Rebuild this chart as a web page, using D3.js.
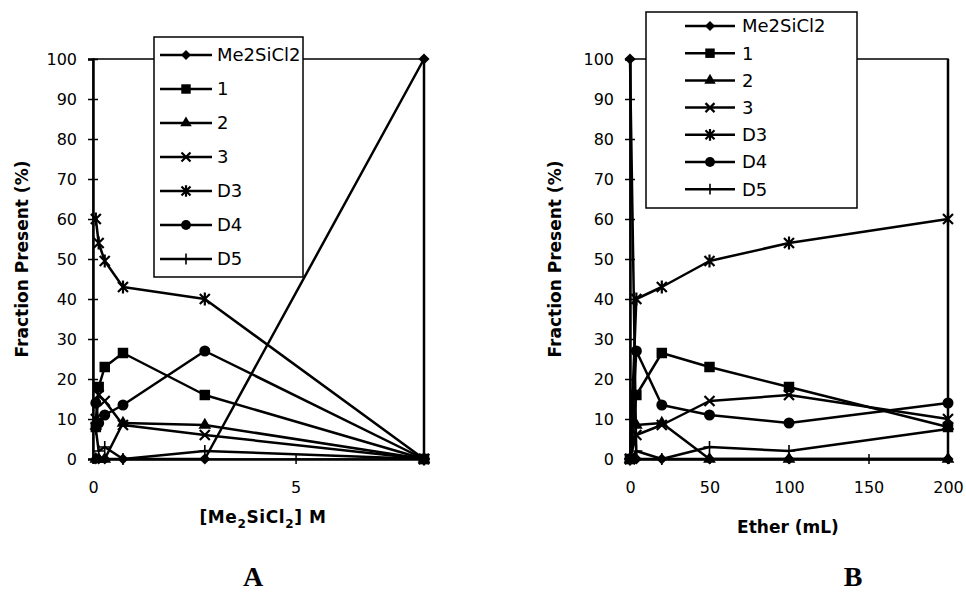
<!DOCTYPE html>
<html>
<head>
<meta charset="utf-8">
<script src="https://cdn.jsdelivr.net/npm/d3@7"></script>
<style>
	body { margin: 0; background: #fff; }
	svg { display: block; }
	text { font-family: "DejaVu Sans", sans-serif; fill: #000; }
	.tickLabel { font-size: 16px; }
	.axisTitle { font-size: 17px; font-weight: bold; }
	.legendText { font-size: 18px; }
	.panelLetter { font-family: "Liberation Serif", serif; font-size: 28px; font-weight: bold; }
</style>
</head>
<body>
<div id="app"></div>
<script>
//////////////////////////// data /////////////////////////////////////////

const seriesNames = ["Me2SiCl2", "1", "2", "3", "D3", "D4", "D5"];
const markerTypes = ["diamond", "square", "triangle", "x", "asterisk", "circle", "plus"];

// same six runs
const concM = [8.17, 2.76, 0.74, 0.29, 0.14, 0.07]; // panel A x
const etherML = [0, 4, 20, 50, 100, 200]; // panel B x

const me2sicl2 = [100, 0, 0, 0, 0, 0];
const cmp1 = [0, 16, 26.5, 23, 18, 8];
const cmp2 = [0, 8.5, 9, 0, 0, 0];
const cmp3 = [0, 6, 8.5, 14.5, 16, 10];
const ringD3 = [0, 40, 43, 49.5, 54, 60];
const ringD4 = [0, 27, 13.5, 11, 9, 14];
const ringD5 = [0, 2, 0, 3, 2, 7.5];

const seriesValues = [me2sicl2, cmp1, cmp2, cmp3, ringD3, ringD4, ringD5];

const yTicks = [0, 10, 20, 30, 40, 50, 60, 70, 80, 90, 100];
const xTicksA = [0, 5];
const xTicksB = [0, 50, 100, 150, 200];

//////////////////////////// markers //////////////////////////////////////

const drawMarker = (g, type, s) => {
	// s = scale factor, 1 = plot size
	if (type === "diamond") {
		g.append("path")
			.attr("d", d3.symbol(d3.symbolSquare, 62 * s * s)())
			.attr("transform", "rotate(45)");
	} else if (type === "square") {
		g.append("path").attr("d", d3.symbol(d3.symbolSquare, 110 * s * s)());
	} else if (type === "triangle") {
		g.append("path").attr("d", d3.symbol(d3.symbolTriangle, 70 * s * s)());
	} else if (type === "circle") {
		g.append("path").attr("d", d3.symbol(d3.symbolCircle, 95 * s * s)());
	} else if (type === "x") {
		const a = 5 * s;
		g.append("path")
			.attr("d", `M${-a},${-a}L${a},${a}M${-a},${a}L${a},${-a}`)
			.attr("fill", "none")
			.attr("stroke", "#000")
			.attr("stroke-width", 2.2);
	} else if (type === "asterisk") {
		const a = 5 * s;
		const b = 6.5 * s;
		g.append("path")
			.attr("d", `M${-a},${-a}L${a},${a}M${-a},${a}L${a},${-a}M0,${-b}L0,${b}`)
			.attr("fill", "none")
			.attr("stroke", "#000")
			.attr("stroke-width", 2.2);
	} else if (type === "plus") {
		const a = 6 * s;
		g.append("path")
			.attr("d", `M0,${-a}L0,${a}M${-a},0L${a},0`)
			.attr("fill", "none")
			.attr("stroke", "#000")
			.attr("stroke-width", 1.6);
	}
	g.selectAll("path").filter(function () { return !this.getAttribute("stroke"); })
		.attr("fill", "#000");
};

//////////////////////////// panel ////////////////////////////////////////

const svg = d3.select("#app").append("svg")
	.attr("width", 966)
	.attr("height", 593);

svg.append("rect").attr("width", 966).attr("height", 593).attr("fill", "#fff");

const drawPanel = (p) => {
	const xScale = d3.scaleLinear().domain(p.xDomain).range([p.left, p.right]);
	const yScale = d3.scaleLinear().domain([0, 100]).range([459, 59]);

	const bounds = svg.append("g");

	// plot area frame
	bounds.append("rect")
		.attr("x", p.left)
		.attr("y", yScale(100))
		.attr("width", p.right - p.left)
		.attr("height", yScale(0) - yScale(100))
		.attr("fill", "none")
		.attr("stroke", "#000")
		.attr("stroke-width", 1.5);
	bounds.append("line")
		.attr("x1", p.right).attr("x2", p.right)
		.attr("y1", yScale(100)).attr("y2", yScale(0))
		.attr("stroke", "#000").attr("stroke-width", 2.5);

	// axes with crossing ticks
	const yAxis = bounds.append("g")
		.attr("transform", `translate(${p.left},0)`)
		.call(d3.axisLeft(yScale).tickValues(yTicks).tickSize(5).tickPadding(11));
	yAxis.select(".domain").attr("stroke-width", 2.5);
	yAxis.selectAll(".tick line").attr("x2", 5).attr("x1", -5).attr("stroke-width", 1.5);
	yAxis.selectAll(".tick text").attr("class", "tickLabel");

	const xAxis = bounds.append("g")
		.attr("transform", `translate(0,${yScale(0)})`)
		.call(d3.axisBottom(xScale).tickValues(p.xTicks).tickSize(5).tickPadding(18).tickFormat(d3.format("d")));
	xAxis.select(".domain").attr("stroke-width", 2.5);
	xAxis.selectAll(".tick line").attr("y1", -5).attr("y2", 5).attr("stroke-width", 1.5);
	xAxis.selectAll(".tick text").attr("class", "tickLabel");
	yAxis.attr("font-size", null).attr("font-family", null);
	xAxis.attr("font-size", null).attr("font-family", null);

	// series
	const line = d3.line()
		.x((d) => xScale(d[0]))
		.y((d) => yScale(d[1]));

	seriesValues.forEach((vals, i) => {
		const pts = vals.map((v, j) => [p.xValues[j], v]).sort((a, b) => a[0] - b[0]);
		bounds.append("path")
			.attr("d", line(pts))
			.attr("fill", "none")
			.attr("stroke", "#000")
			.attr("stroke-width", 2.5)
			.attr("stroke-linejoin", "round");
		pts.forEach((d) => {
			const m = bounds.append("g")
				.attr("transform", `translate(${xScale(d[0])},${yScale(d[1])})`);
			drawMarker(m, markerTypes[i], 1);
		});
	});

	// legend
	const lg = p.legend;
	const legend = bounds.append("g");
	legend.append("rect")
		.attr("x", lg.x0).attr("y", lg.y0)
		.attr("width", lg.x1 - lg.x0).attr("height", lg.y1 - lg.y0)
		.attr("fill", "#fff").attr("stroke", "#000").attr("stroke-width", 1.5);
	seriesNames.forEach((name, i) => {
		const y = lg.first + i * lg.step;
		legend.append("line")
			.attr("x1", lg.lineX0).attr("x2", lg.lineX1)
			.attr("y1", y).attr("y2", y)
			.attr("stroke", "#000").attr("stroke-width", 2.5);
		const m = legend.append("g")
			.attr("transform", `translate(${(lg.lineX0 + lg.lineX1) / 2},${y})`);
		drawMarker(m, markerTypes[i], 0.9);
		legend.append("text")
			.attr("class", "legendText")
			.attr("x", lg.textX)
			.attr("y", y)
			.attr("dy", "0.36em")
			.text(name);
	});

	// y title
	svg.append("text")
		.attr("class", "axisTitle")
		.attr("text-anchor", "middle")
		.attr("transform", `translate(${p.yTitleX},${yScale(50)}) rotate(-90)`)
		.text("Fraction Present (%)");

	// panel letter
	svg.append("text")
		.attr("class", "panelLetter")
		.attr("text-anchor", "middle")
		.attr("x", p.letterX)
		.attr("y", 586)
		.text(p.letter);

	return { xScale, yScale };
};

//////////////////////////// panels ///////////////////////////////////////

drawPanel({
	left: 93, right: 424,
	xDomain: [0, 8.17],
	xValues: concM,
	xTicks: xTicksA,
	yTitleX: 28,
	letter: "A", letterX: 253,
	legend: { x0: 154, x1: 303, y0: 37, y1: 277, first: 55, step: 34, lineX0: 160, lineX1: 212, textX: 217 }
});

drawPanel({
	left: 630, right: 948,
	xDomain: [0, 200],
	xValues: etherML,
	xTicks: xTicksB,
	yTitleX: 561,
	letter: "B", letterX: 853,
	legend: { x0: 646, x1: 857, y0: 12, y1: 208, first: 26, step: 27.2, lineX0: 685, lineX1: 735, textX: 742 }
});

// x titles
const titleA = svg.append("text")
	.attr("class", "axisTitle")
	.attr("text-anchor", "middle")
	.attr("x", 263)
	.attr("y", 523)
	.attr("letter-spacing", "0.6px");
titleA.append("tspan").text("[Me");
titleA.append("tspan").attr("font-size", "12px").attr("dy", 5).text("2");
titleA.append("tspan").attr("dy", -5).text("SiCl");
titleA.append("tspan").attr("font-size", "12px").attr("dy", 5).text("2");
titleA.append("tspan").attr("dy", -5).text("] M");

svg.append("text")
	.attr("class", "axisTitle")
	.attr("text-anchor", "middle")
	.attr("x", 788)
	.attr("y", 533)
	.text("Ether (mL)");
</script>
</body>
</html>
